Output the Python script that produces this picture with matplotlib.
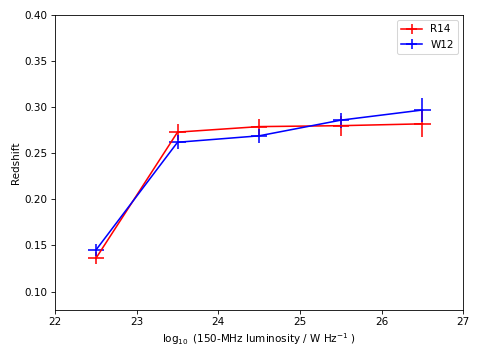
import numpy as np
import matplotlib
matplotlib.use('Agg')
import matplotlib.pyplot as plt

# log10 luminosity bins
lum = np.array([22.5, 23.5, 24.5, 25.5, 26.5])
lum_err = np.array([0.1, 0.1, 0.1, 0.1, 0.1])

# R14 redshifts
z_r14 = np.array([0.136, 0.273, 0.279, 0.280, 0.282])
z_r14_err = np.array([0.0065, 0.0087, 0.0087, 0.011, 0.0145])

# W12 redshifts
z_w12 = np.array([0.145, 0.262, 0.269, 0.286, 0.297])
z_w12_err = np.array([0.0065, 0.0076, 0.0076, 0.008, 0.013])

fig = plt.figure(figsize=(479/75, 360/75), dpi=75)
ax = fig.add_axes([0.115, 0.139, 0.852, 0.819])

ax.errorbar(lum, z_r14, xerr=lum_err, yerr=z_r14_err, color='r', lw=1.5, label='R14')
ax.errorbar(lum, z_w12, xerr=lum_err, yerr=z_w12_err, color='b', lw=1.5, label='W12')

ax.set_xlim(22, 27)
ax.set_ylim(0.08, 0.40)
ax.set_xlabel(r'$\log_{10}$ (150-MHz luminosity / W Hz$^{-1}$ )')
ax.set_ylabel('Redshift')
ax.legend(loc='upper right')

fig.savefig('out.png', dpi=75)
